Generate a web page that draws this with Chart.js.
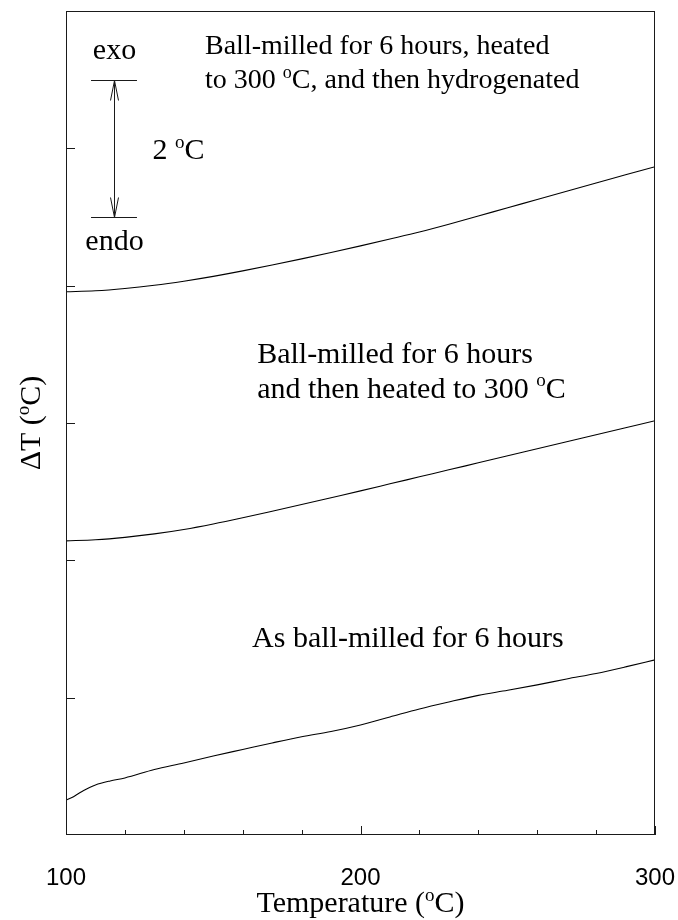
<!DOCTYPE html>
<html>
<head>
<meta charset="utf-8">
<script src="https://cdn.jsdelivr.net/npm/chart.js@4.4.1/dist/chart.umd.min.js"></script>
<style>
  html, body { margin: 0; padding: 0; background: #fff; }
  #wrap { width: 678px; height: 920px; }
</style>
</head>
<body>
<div id="wrap"><canvas id="dta" width="678" height="920"></canvas></div>
<script>
// DTA traces (ΔT in °C, arbitrary vertical offset per trace) versus temperature (°C)
const tempHydrogenated = [100,110,120,130,140,150,160,170,180,190,200,210,220,230,240,250,260,270,280,290,300];
const dtHydrogenated   = [7.912,7.925,7.958,8.005,8.065,8.135,8.215,8.300,8.390,8.483,8.580,8.680,8.782,8.895,9.015,9.135,9.255,9.375,9.495,9.614,9.733];

const tempHeated = [100,110,120,130,140,150,160,170,180,190,200,210,220,230,240,250,260,270,280,290,300];
const dtHeated   = [4.284,4.300,4.335,4.385,4.450,4.530,4.620,4.715,4.812,4.912,5.012,5.114,5.216,5.318,5.420,5.522,5.624,5.726,5.828,5.930,6.032];

const tempAsMilled = [100,102,104,106,108,110,115,120,130,140,150,160,170,180,190,200,210,220,230,240,250,260,270,280,290,300];
const dtAsMilled   = [0.510,0.546,0.597,0.648,0.692,0.729,0.787,0.831,0.954,1.049,1.151,1.246,1.341,1.431,1.508,1.603,1.719,1.836,1.938,2.033,2.107,2.186,2.273,2.353,2.448,2.550];

const xMajorTicks = [100, 200, 300];
const xMinorStep = 20;
const yTickValues = [2, 4, 6, 8, 10];

// Trace labels: '^o' marks a raised small "o" (degree)
const traceLabels = [
  { lines: ['Ball-milled for 6 hours, heated', 'to 300 ^oC, and then hydrogenated'], t: 147.2, v: 11.37, size: 28, gap: 34 },
  { lines: ['Ball-milled for 6 hours', 'and then heated to 300 ^oC'], t: 164.9, v: 6.88, size: 30, gap: 35 },
  { lines: ['As ball-milled for 6 hours'], t: 163.2, v: 2.74, size: 30, gap: 35 }
];
// 2 °C scale bar
const scaleBar = { t: 116.3, from: 9, to: 11, capHalf: 7.8 };

const SERIF = "'Liberation Serif', 'Times New Roman', serif";
const SANS = "'Liberation Sans', Arial, sans-serif";

function toPoints(xs, ys) { return xs.map((x, i) => ({ x: x, y: ys[i] })); }

// Draws a string with "^o" rendered as a superscript o
function richText(ctx, str, x, y, size, align) {
  const parts = str.split('^');
  const segs = [];
  parts.forEach((p, i) => {
    if (i === 0) { if (p) segs.push({ t: p, sup: false }); }
    else { segs.push({ t: p.charAt(0), sup: true }); if (p.length > 1) segs.push({ t: p.slice(1), sup: false }); }
  });
  const supSize = Math.round(size * 0.64);
  let total = 0;
  segs.forEach(s => {
    ctx.font = (s.sup ? supSize : size) + 'px ' + SERIF;
    s.w = ctx.measureText(s.t).width;
    total += s.w;
  });
  let cx = align === 'center' ? x - total / 2 : x;
  ctx.textAlign = 'left';
  ctx.textBaseline = 'alphabetic';
  segs.forEach(s => {
    ctx.font = (s.sup ? supSize : size) + 'px ' + SERIF;
    ctx.fillText(s.t, cx, s.sup ? y - size * 0.37 : y);
    cx += s.w;
  });
}

const decorations = {
  id: 'decorations',
  afterDraw(chart) {
    const { ctx, chartArea: a, scales: { x, y } } = chart;
    ctx.save();
    ctx.strokeStyle = '#1a1a1a';
    ctx.fillStyle = '#000';
    ctx.lineWidth = 1;

    // frame
    ctx.strokeRect(a.left + 0.5, a.top + 0.5, a.right - a.left - 1, a.bottom - a.top - 1);

    // inward tick marks along the bottom
    ctx.beginPath();
    for (let t = x.min; t <= x.max; t += xMinorStep) {
      const px = Math.round(x.getPixelForValue(t)) + 0.5;
      const len = xMajorTicks.includes(t) ? 9 : 5;
      ctx.moveTo(px, a.bottom);
      ctx.lineTo(px, a.bottom - len);
    }
    // inward tick marks on the left
    yTickValues.forEach(v => {
      const py = Math.round(y.getPixelForValue(v)) + 0.5;
      ctx.moveTo(a.left, py);
      ctx.lineTo(a.left + 9, py);
    });
    ctx.stroke();

    // 2 °C scale bar with open arrow heads
    const bx = Math.round(x.getPixelForValue(scaleBar.t)) + 0.5;
    const yTop = Math.round(y.getPixelForValue(scaleBar.to)) + 0.5;
    const yBot = Math.round(y.getPixelForValue(scaleBar.from)) + 0.5;
    const cl = x.getPixelForValue(scaleBar.t - scaleBar.capHalf);
    const cr = x.getPixelForValue(scaleBar.t + scaleBar.capHalf);
    ctx.beginPath();
    ctx.moveTo(cl, yTop); ctx.lineTo(cr, yTop);
    ctx.moveTo(cl, yBot); ctx.lineTo(cr, yBot);
    ctx.moveTo(bx, yTop); ctx.lineTo(bx, yBot);
    ctx.moveTo(bx - 4, yTop + 20); ctx.lineTo(bx, yTop); ctx.lineTo(bx + 4, yTop + 20);
    ctx.moveTo(bx - 4, yBot - 20); ctx.lineTo(bx, yBot); ctx.lineTo(bx + 4, yBot - 20);
    ctx.stroke();

    ctx.font = '30px ' + SERIF;
    ctx.textAlign = 'center';
    ctx.textBaseline = 'alphabetic';
    ctx.fillText('exo', bx, yTop - 22);
    ctx.fillText('endo', bx, yBot + 32);
    richText(ctx, '2 ^oC', bx + 38, (yTop + yBot) / 2 + 10, 30, 'left');

    // trace labels
    traceLabels.forEach(lbl => {
      const lx = x.getPixelForValue(lbl.t);
      const ly = y.getPixelForValue(lbl.v);
      lbl.lines.forEach((ln, i) => richText(ctx, ln, lx, ly + i * lbl.gap, lbl.size, 'left'));
    });

    // axis titles
    richText(ctx, 'Temperature (^oC)', (a.left + a.right) / 2, 912, 30, 'center');
    ctx.save();
    ctx.translate(40, (a.top + a.bottom) / 2);
    ctx.rotate(-Math.PI / 2);
    richText(ctx, 'ΔT (^oC)', 0, 0, 30, 'center');
    ctx.restore();

    ctx.restore();
  }
};

const traceStyle = { borderColor: '#000', borderWidth: 1.1, pointRadius: 0, fill: false, cubicInterpolationMode: 'monotone' };

new Chart(document.getElementById('dta'), {
  type: 'line',
  data: {
    datasets: [
      Object.assign({ label: 'Ball-milled 6 h, heated to 300 °C, hydrogenated', data: toPoints(tempHydrogenated, dtHydrogenated) }, traceStyle),
      Object.assign({ label: 'Ball-milled 6 h, heated to 300 °C', data: toPoints(tempHeated, dtHeated) }, traceStyle),
      Object.assign({ label: 'As ball-milled 6 h', data: toPoints(tempAsMilled, dtAsMilled) }, traceStyle)
    ]
  },
  options: {
    responsive: false,
    animation: false,
    layout: { padding: { top: 11, right: 23, left: 0, bottom: 0 } },
    plugins: { legend: { display: false }, tooltip: { enabled: false } },
    scales: {
      x: {
        type: 'linear',
        min: 100, max: 300,
        border: { display: false },
        grid: { display: false },
        ticks: {
          stepSize: 100,
          padding: 21,
          color: '#000',
          font: { family: SANS, size: 24 },
          maxRotation: 0,
          callback: v => (xMajorTicks.includes(v) ? String(v) : '')
        },
        afterFit: s => { s.height = 85; s.paddingLeft = 0; s.paddingRight = 0; }
      },
      y: {
        min: 0, max: 12,
        border: { display: false },
        grid: { display: false },
        ticks: { display: false, stepSize: 2 },
        afterFit: s => { s.width = 66; }
      }
    }
  },
  plugins: [decorations]
});
</script>
</body>
</html>
